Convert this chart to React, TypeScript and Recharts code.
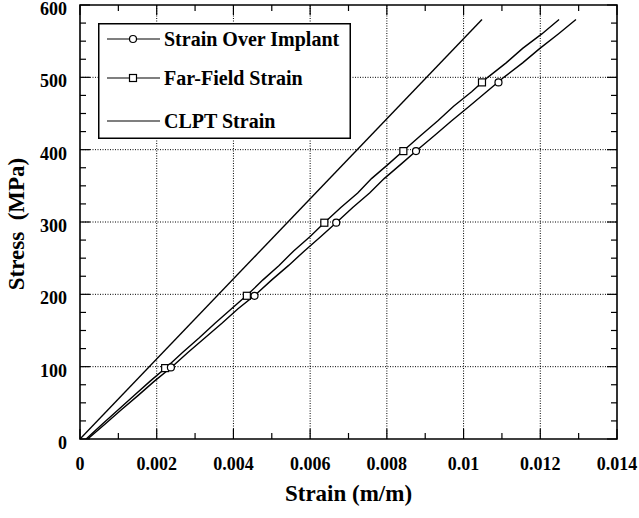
import React from 'react';
import { ComposedChart, Line, Scatter, XAxis, YAxis, ReferenceLine, ReferenceArea, Legend } from 'recharts';

const stressLevels = [0, 20, 40, 60, 80, 100, 120, 140, 160, 180, 200, 220, 240, 260, 280, 300, 320, 340, 360, 380, 400, 420, 440, 460, 480, 500, 520, 540, 560, 580];
const overImplantStrain = [0.0002, 0.00064, 0.00107, 0.00151, 0.00194, 0.0024, 0.00282, 0.00326, 0.0037, 0.00412, 0.00459, 0.005, 0.00544, 0.00585, 0.00628, 0.0067, 0.00711, 0.00755, 0.00793, 0.00837, 0.0088, 0.00925, 0.00969, 0.01015, 0.0106, 0.01105, 0.01154, 0.01199, 0.01247, 0.01293];
const farFieldStrain = [0.00016, 0.00057, 0.00099, 0.00141, 0.00183, 0.00227, 0.00268, 0.00311, 0.00352, 0.00395, 0.00438, 0.00477, 0.00519, 0.00557, 0.006, 0.00639, 0.0068, 0.00724, 0.0076, 0.00804, 0.00846, 0.00889, 0.00933, 0.00974, 0.01021, 0.01063, 0.01111, 0.01154, 0.01204, 0.01249];
const clptStrain = [0, 0.01048];
const clptStress = [0, 580];

const overImplantMarkerStrain = [0.00237, 0.00455, 0.00668, 0.00876, 0.01091];
const overImplantMarkerStress = [99, 198, 299, 398, 493];
const farFieldMarkerStrain = [0.00222, 0.00435, 0.00637, 0.00843, 0.01048];
const farFieldMarkerStress = [98, 198, 299, 398, 493];

const seriesNames = ['Strain Over Implant', 'Far-Field Strain', 'CLPT Strain'];

const xMajorTicks = [0, 0.002, 0.004, 0.006, 0.008, 0.01, 0.012, 0.014];
const xTickLabels = ['0', '0.002', '0.004', '0.006', '0.008', '0.01', '0.012', '0.014'];
const xMinorTicks = [0.001, 0.003, 0.005, 0.007, 0.009, 0.011, 0.013];
const yMajorTicks = [0, 100, 200, 300, 400, 500, 600];
const yTickLabels = ['0', '100', '200', '300', '400', '500', '600'];
const yMinorTicks = [25, 50, 75, 125, 150, 175, 225, 250, 275, 325, 350, 375, 425, 450, 475, 525, 550, 575];

const xTitle = 'Strain (m/m)';
const yTitle = 'Stress  (MPa)';

const overImplantData = stressLevels.map((s, i) => ({ strain: overImplantStrain[i], stress: s }));
const farFieldData = stressLevels.map((s, i) => ({ strain: farFieldStrain[i], stress: s }));
const clptData = clptStrain.map((e, i) => ({ strain: e, stress: clptStress[i] }));
const overImplantMarkers = overImplantMarkerStrain.map((e, i) => ({ strain: e, stress: overImplantMarkerStress[i] }));
const farFieldMarkers = farFieldMarkerStrain.map((e, i) => ({ strain: e, stress: farFieldMarkerStress[i] }));

const W = 639;
const H = 518;
const PLOT_W = 537;
const PLOT_H = 434;
const FONT = 'Liberation Serif';

const T = (props: any) => {
  const { size, children, style, ...rest } = props;
  return (
    <text
      {...rest}
      fontFamily={FONT}
      fontWeight="bold"
      fontSize={size}
      fill="#000"
      style={{ fontFamily: `'${FONT}'`, fontWeight: 700, fontSize: size, ...(style || {}) }}
    >
      {children}
    </text>
  );
};

const allXTicks = [...xMajorTicks, ...xMinorTicks].sort((a, b) => a - b);
const allYTicks = [...yMajorTicks, ...yMinorTicks].sort((a, b) => a - b);

const findIdx = (arr: number[], v: number) => arr.findIndex((t) => Math.abs(t - v) < 1e-9);

const XTick = (props: any) => {
  const { x, y, payload } = props;
  const mi = findIdx(xMajorTicks, payload.value);
  const len = mi >= 0 ? 10 : 6;
  return (
    <g>
      <line x1={x} y1={y} x2={x} y2={y - len} stroke="#000" strokeWidth={1.2} />
      <line x1={x} y1={y - PLOT_H} x2={x} y2={y - PLOT_H + len} stroke="#000" strokeWidth={1.2} />
      {mi >= 0 && (
        <T x={x} y={y + 31} textAnchor="middle" size={18}>
          {xTickLabels[mi]}
        </T>
      )}
    </g>
  );
};

const YTick = (props: any) => {
  const { x, y, payload } = props;
  const mi = findIdx(yMajorTicks, payload.value);
  const len = mi >= 0 ? 10 : 6;
  return (
    <g>
      <line x1={x} y1={y} x2={x + len} y2={y} stroke="#000" strokeWidth={1.2} />
      <line x1={x + PLOT_W} y1={y} x2={x + PLOT_W - len} y2={y} stroke="#000" strokeWidth={1.2} />
      {mi >= 0 && (
        <T x={x - 13} y={y + 10} textAnchor="end" size={18}>
          {yTickLabels[mi]}
        </T>
      )}
    </g>
  );
};

const XTitle = (props: any) => {
  const vb = props.viewBox || {};
  const cx = vb.x + vb.width / 2;
  return (
    <T x={cx} y={501} textAnchor="middle" size={23}>
      {xTitle}
    </T>
  );
};

const YTitle = (props: any) => {
  const vb = props.viewBox || {};
  const cy = vb.y + vb.height / 2 + 2;
  const cx = 16;
  return (
    <T x={cx} y={cy} dy="0.35em" textAnchor="middle" transform={`rotate(-90, ${cx}, ${cy})`} size={23} style={{ whiteSpace: 'pre' }}>
      {yTitle}
    </T>
  );
};

const CircleMarker = (p: any) => (
  <circle cx={p.cx} cy={p.cy} r={3.5} fill="#fff" stroke="#000" strokeWidth={1.2} />
);
const SquareMarker = (p: any) => (
  <rect x={p.cx - 3.5} y={p.cy - 3.5} width={7} height={7} fill="#fff" stroke="#000" strokeWidth={1.2} />
);

const rowY = [16, 55, 98];
const LegendBox = () => (
  <svg width={253} height={116} style={{ display: 'block' }}>
    <rect x={0.75} y={0.75} width={251.5} height={114.5} fill="#fff" stroke="#000" strokeWidth={1.5} />
    {seriesNames.map((name, i) => (
      <g key={name}>
        <line x1={9} y1={rowY[i]} x2={62} y2={rowY[i]} stroke="#000" strokeWidth={1.2} />
        {i === 0 && <circle cx={35} cy={rowY[i]} r={3.5} fill="#fff" stroke="#000" strokeWidth={1.2} />}
        {i === 1 && <rect x={31.5} y={rowY[i] - 3.5} width={7} height={7} fill="#fff" stroke="#000" strokeWidth={1.2} />}
        <T x={66} y={rowY[i] + 7} size={20}>
          {name}
        </T>
      </g>
    ))}
  </svg>
);

export default function App() {
  return (
    <div style={{ position: 'absolute', left: 0, top: 0, width: W, height: H, background: '#fff', fontFamily: `'${FONT}'` }}>
      <ComposedChart width={W} height={H} margin={{ top: 5, right: 22, bottom: 0, left: 0 }} style={{ fontFamily: `'${FONT}'` }}>
        <XAxis
          type="number"
          dataKey="strain"
          domain={[0, 0.014]}
          ticks={allXTicks}
          interval={0}
          tick={<XTick />}
          tickLine={false}
          tickSize={0}
          tickMargin={0}
          axisLine={false}
          height={79}
          allowDataOverflow
          label={{ content: <XTitle /> }}
        />
        <YAxis
          type="number"
          dataKey="stress"
          domain={[0, 600]}
          ticks={allYTicks}
          interval={0}
          tick={<YTick />}
          tickLine={false}
          tickSize={0}
          tickMargin={0}
          axisLine={false}
          width={80}
          allowDataOverflow
          label={{ content: <YTitle /> }}
        />
        {xMajorTicks.slice(1, -1).map((t) => (
          <ReferenceLine key={'vx' + t} x={t} stroke="#000" strokeWidth={1} strokeDasharray="1 1.5" />
        ))}
        {yMajorTicks.slice(1, -1).map((t) => (
          <ReferenceLine key={'hy' + t} y={t} stroke="#000" strokeWidth={1} strokeDasharray="1 1.5" />
        ))}
        <ReferenceArea x1={0} x2={0.014} y1={0} y2={600} fill="#fff" fillOpacity={0} stroke="#000" strokeWidth={1.6} />
        <Line data={clptData} dataKey="stress" name={seriesNames[2]} type="linear" stroke="#000" strokeWidth={1.4} dot={false} isAnimationActive={false} />
        <Line data={farFieldData} dataKey="stress" name={seriesNames[1]} type="linear" stroke="#000" strokeWidth={1.4} dot={false} isAnimationActive={false} />
        <Line data={overImplantData} dataKey="stress" name={seriesNames[0]} type="linear" stroke="#000" strokeWidth={1.4} dot={false} isAnimationActive={false} />
        <Scatter data={farFieldMarkers} dataKey="stress" shape={<SquareMarker />} isAnimationActive={false} legendType="none" />
        <Scatter data={overImplantMarkers} dataKey="stress" shape={<CircleMarker />} isAnimationActive={false} legendType="none" />
        <Legend
          layout="horizontal"
          verticalAlign="middle"
          align="center"
          content={<LegendBox />}
          wrapperStyle={{ position: 'absolute', left: 98, top: 23, width: 253, height: 116 }}
        />
      </ComposedChart>
    </div>
  );
}
